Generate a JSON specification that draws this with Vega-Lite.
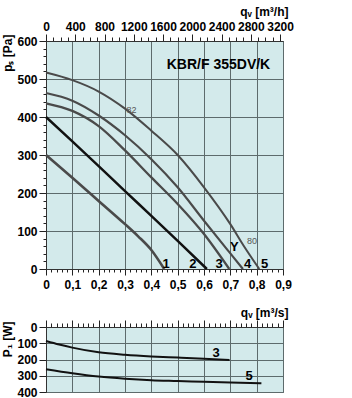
{
  "$schema": "https://vega.github.io/schema/vega-lite/v6.json",
  "padding": {"left": 0, "top": 4, "right": 5, "bottom": 5},
  "spacing": 0,
  "resolve": {"scale": {"x": "independent", "y": "independent"}, "axis": {"x": "independent", "y": "independent"}},
  "datasets": {
    "curves": [
      {"curve": "1", "q": 0, "p": 300}, {"curve": "1", "q": 0.1, "p": 240}, {"curve": "1", "q": 0.2, "p": 179}, {"curve": "1", "q": 0.3, "p": 118}, {"curve": "1", "q": 0.35, "p": 86}, {"curve": "1", "q": 0.4, "p": 50}, {"curve": "1", "q": 0.449, "p": 0},
      {"curve": "2", "q": 0, "p": 400}, {"curve": "2", "q": 0.1, "p": 336}, {"curve": "2", "q": 0.2, "p": 271}, {"curve": "2", "q": 0.3, "p": 205}, {"curve": "2", "q": 0.4, "p": 140}, {"curve": "2", "q": 0.5, "p": 74}, {"curve": "2", "q": 0.611, "p": 0},
      {"curve": "3", "q": 0, "p": 436}, {"curve": "3", "q": 0.1, "p": 416}, {"curve": "3", "q": 0.2, "p": 376}, {"curve": "3", "q": 0.3, "p": 312}, {"curve": "3", "q": 0.4, "p": 241}, {"curve": "3", "q": 0.5, "p": 171}, {"curve": "3", "q": 0.6, "p": 92}, {"curve": "3", "q": 0.696, "p": 0},
      {"curve": "4", "q": 0, "p": 463}, {"curve": "4", "q": 0.1, "p": 443}, {"curve": "4", "q": 0.2, "p": 404}, {"curve": "4", "q": 0.3, "p": 352}, {"curve": "4", "q": 0.4, "p": 289}, {"curve": "4", "q": 0.5, "p": 215}, {"curve": "4", "q": 0.6, "p": 127}, {"curve": "4", "q": 0.7, "p": 41}, {"curve": "4", "q": 0.748, "p": 0},
      {"curve": "5", "q": 0, "p": 517}, {"curve": "5", "q": 0.1, "p": 497}, {"curve": "5", "q": 0.2, "p": 467}, {"curve": "5", "q": 0.3, "p": 422}, {"curve": "5", "q": 0.4, "p": 364}, {"curve": "5", "q": 0.5, "p": 300}, {"curve": "5", "q": 0.6, "p": 215}, {"curve": "5", "q": 0.7, "p": 118}, {"curve": "5", "q": 0.75, "p": 62}, {"curve": "5", "q": 0.81, "p": 0}
    ],
    "curveLabels": [
      {"label": "1", "q": 0.456, "p": 14}, {"label": "2", "q": 0.558, "p": 14}, {"label": "3", "q": 0.657, "p": 14}, {"label": "4", "q": 0.766, "p": 14}, {"label": "5", "q": 0.83, "p": 14}, {"label": "Y", "q": 0.715, "p": 58}
    ],
    "smallLabels": [
      {"label": "80", "q": 0.782, "p": 74}, {"label": "82", "q": 0.325, "p": 418}
    ],
    "chartTitle": [
      {"label": "KBR/F 355DV/K", "q": 0.655, "p": 537}
    ],
    "power": [
      {"curve": "3", "q": 0, "P": 86}, {"curve": "3", "q": 0.05, "P": 108}, {"curve": "3", "q": 0.1, "P": 127}, {"curve": "3", "q": 0.2, "P": 156}, {"curve": "3", "q": 0.3, "P": 171}, {"curve": "3", "q": 0.4, "P": 181}, {"curve": "3", "q": 0.5, "P": 188}, {"curve": "3", "q": 0.6, "P": 195}, {"curve": "3", "q": 0.697, "P": 203},
      {"curve": "5", "q": 0, "P": 260}, {"curve": "5", "q": 0.1, "P": 285}, {"curve": "5", "q": 0.2, "P": 305}, {"curve": "5", "q": 0.3, "P": 318}, {"curve": "5", "q": 0.4, "P": 327}, {"curve": "5", "q": 0.5, "P": 332}, {"curve": "5", "q": 0.6, "P": 337}, {"curve": "5", "q": 0.7, "P": 341}, {"curve": "5", "q": 0.818, "P": 346}
    ],
    "powerLabels": [
      {"label": "3", "q": 0.646, "P": 162}, {"label": "5", "q": 0.771, "P": 301}
    ],
    "anchor": [{"q": 0, "p": 0}]
  },
  "vconcat": [
    {
      "width": 237,
      "height": 228,
      "layer": [
        {
          "data": {"name": "curves"},
          "mark": {"type": "line", "interpolate": "monotone"},
          "encoding": {
            "x": {"field": "q", "type": "quantitative", "scale": {"domain": [0, 0.9], "nice": false, "zero": false},
              "axis": {"orient": "bottom", "values": [0,0.02,0.04,0.06,0.08,0.1,0.12,0.14,0.16,0.18,0.2,0.22,0.24,0.26,0.28,0.3,0.32,0.34,0.36,0.38,0.4,0.42,0.44,0.46,0.48,0.5,0.52,0.54,0.56,0.58,0.6,0.62,0.64,0.66,0.68,0.7,0.72,0.74,0.76,0.78,0.8,0.82,0.84,0.86,0.88,0.9],
                "labelExpr": "abs(datum.value * 10 - round(datum.value * 10)) < 0.001 ? (datum.value == 0 ? '0' : replace(format(datum.value, '.1f'), '.', ',')) : ''",
                "labelOverlap": false,
                "tickSize": {"condition": {"test": "abs(datum.value * 10 - round(datum.value * 10)) < 0.001", "value": 6}, "value": 3},
                "gridOpacity": {"condition": {"test": "abs(datum.value * 10 - round(datum.value * 10)) < 0.001", "value": 1}, "value": 0},
                "grid": true, "labelPadding": 4,
                "title": "qᵥ [m³/s]", "titleAnchor": "end", "titleAlign": "right", "titleX": 242, "titleY": 43, "titleBaseline": "middle"}},
            "y": {"field": "p", "type": "quantitative", "scale": {"domain": [0, 600], "nice": false, "zero": false},
              "axis": {"orient": "left", "values": [0,20,40,60,80,100,120,140,160,180,200,220,240,260,280,300,320,340,360,380,400,420,440,460,480,500,520,540,560,580,600],
                "labelExpr": "datum.value % 100 === 0 ? format(datum.value, 'd') : ''",
                "labelOverlap": false,
                "tickSize": {"condition": {"test": "datum.value % 100 === 0", "value": 7}, "value": 3},
                "gridOpacity": {"condition": {"test": "datum.value % 100 === 0", "value": 1}, "value": 0},
                "grid": true, "labelPadding": 2,
                "title": "pₛ [Pa]", "titleAngle": 270, "titleAlign": "right", "titleBaseline": "alphabetic", "titleX": -35, "titleY": -7}},
            "color": {"field": "curve", "type": "nominal", "scale": {"domain": ["1", "2", "3", "4", "5"], "range": ["#4a4a4a", "#111111", "#4a4a4a", "#4a4a4a", "#4a4a4a"]}, "legend": null},
            "strokeWidth": {"field": "curve", "type": "nominal", "scale": {"domain": ["1", "2", "3", "4", "5"], "range": [2.6, 2, 2.6, 2.6, 2.6]}, "legend": null}
          }
        },
        {
          "data": {"name": "anchor"},
          "mark": {"type": "point", "opacity": 0},
          "encoding": {
            "x": {"field": "q", "type": "quantitative",
              "axis": {"orient": "top", "values": [0,0.027778,0.055556,0.083333,0.111111,0.138889,0.166667,0.194444,0.222222,0.25,0.277778,0.305556,0.333333,0.361111,0.388889,0.416667,0.444444,0.472222,0.5,0.527778,0.555556,0.583333,0.611111,0.638889,0.666667,0.694444,0.722222,0.75,0.777778,0.805556,0.833333,0.861111,0.888889],
                "labelExpr": "round(datum.value * 3600) % 400 === 0 ? format(round(datum.value * 3600), 'd') : ''",
                "labelOverlap": false,
                "tickSize": {"condition": {"test": "round(datum.value * 3600) % 400 === 0", "value": 7}, "value": 4},
                "grid": false, "domain": true, "labelPadding": 1,
                "title": "qᵥ [m³/h]", "titleAnchor": "end", "titleAlign": "right", "titleX": 242, "titleY": -30, "titleBaseline": "middle"}},
            "y": {"field": "p", "type": "quantitative", "axis": null}
          }
        },
        {
          "data": {"name": "curveLabels"},
          "mark": {"type": "text", "fontWeight": "bold", "fontSize": 13, "color": "#000", "align": "center", "baseline": "middle"},
          "encoding": {
            "x": {"field": "q", "type": "quantitative", "axis": null},
            "y": {"field": "p", "type": "quantitative", "axis": null},
            "text": {"field": "label"}
          }
        },
        {
          "data": {"name": "smallLabels"},
          "mark": {"type": "text", "fontSize": 9, "color": "#555", "align": "center", "baseline": "middle"},
          "encoding": {
            "x": {"field": "q", "type": "quantitative", "axis": null},
            "y": {"field": "p", "type": "quantitative", "axis": null},
            "text": {"field": "label"}
          }
        },
        {
          "data": {"name": "chartTitle"},
          "mark": {"type": "text", "fontSize": 14, "fontWeight": "bold", "color": "#000", "align": "center", "baseline": "middle"},
          "encoding": {
            "x": {"field": "q", "type": "quantitative", "axis": null},
            "y": {"field": "p", "type": "quantitative", "axis": null},
            "text": {"field": "label"}
          }
        }
      ],
      "resolve": {"axis": {"x": "independent", "y": "independent"}}
    },
    {
      "width": 237,
      "height": 65,
      "layer": [
        {
          "data": {"name": "power"},
          "mark": {"type": "line", "interpolate": "monotone", "color": "#111", "strokeWidth": 2},
          "encoding": {
            "x": {"field": "q", "type": "quantitative", "scale": {"domain": [0, 0.9], "nice": false, "zero": false},
              "axis": {"orient": "top", "values": [0,0.02,0.04,0.06,0.08,0.1,0.12,0.14,0.16,0.18,0.2,0.22,0.24,0.26,0.28,0.3,0.32,0.34,0.36,0.38,0.4,0.42,0.44,0.46,0.48,0.5,0.52,0.54,0.56,0.58,0.6,0.62,0.64,0.66,0.68,0.7,0.72,0.74,0.76,0.78,0.8,0.82,0.84,0.86,0.88,0.9],
                "labels": false,
                "tickSize": {"condition": {"test": "abs(datum.value * 10 - round(datum.value * 10)) < 0.001", "value": 7}, "value": 4},
                "gridOpacity": {"condition": {"test": "abs(datum.value * 10 - round(datum.value * 10)) < 0.001", "value": 1}, "value": 0},
                "grid": true, "title": null}},
            "y": {"field": "P", "type": "quantitative", "scale": {"domain": [0, 400], "nice": false, "zero": false, "reverse": true},
              "axis": {"orient": "left", "values": [0, 100, 200, 300, 400], "labelOverlap": false, "grid": true, "tickSize": 7, "labelPadding": 2, "title": "P₁ [W]", "titleAngle": 270, "titleAlign": "right", "titleBaseline": "alphabetic", "titleX": -35, "titleY": -6}},
            "detail": {"field": "curve", "type": "nominal"}
          }
        },
        {
          "data": {"name": "powerLabels"},
          "mark": {"type": "text", "fontWeight": "bold", "fontSize": 13, "color": "#000", "align": "center", "baseline": "middle"},
          "encoding": {
            "x": {"field": "q", "type": "quantitative", "axis": null},
            "y": {"field": "P", "type": "quantitative", "axis": null},
            "text": {"field": "label"}
          }
        }
      ],
      "resolve": {"axis": {"x": "independent", "y": "independent"}}
    }
  ],
  "config": {
    "font": "Liberation Sans",
    "view": {"fill": "#d3eaeb", "stroke": "#5d6b6c"},
    "axis": {
      "labelFont": "Liberation Sans", "labelFontWeight": "bold", "labelFontSize": 12, "labelColor": "#000",
      "labelFlush": false,
      "titleFont": "Liberation Sans", "titleFontWeight": "bold", "titleFontSize": 12, "titleColor": "#000",
      "tickColor": "#222", "tickWidth": 1, "domainColor": "#333", "domainWidth": 1,
      "gridColor": "#5d6b6c", "gridWidth": 1
    }
  }
}
